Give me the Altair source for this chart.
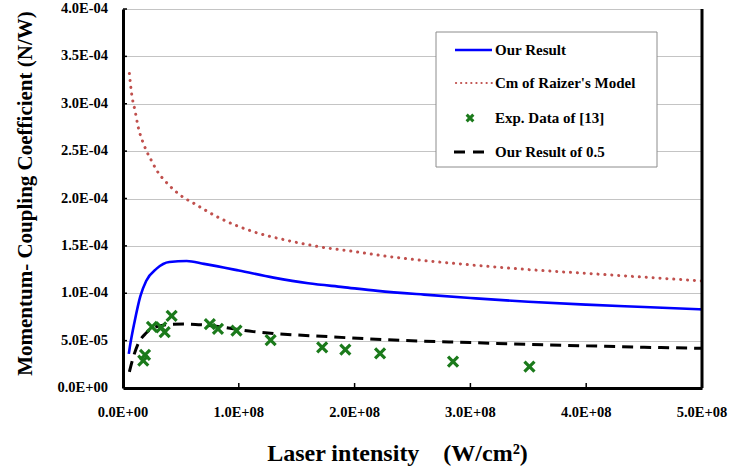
import altair as alt
import pandas as pd

# ---------------- data ----------------
OUR_I = [5e6, 6e6, 1.0e7, 1.5e7, 2.0e7, 2.9e7, 4.0e7, 5.5e7, 7.0e7, 1.0e8, 1.3e8,
         1.6e8, 1.9e8, 2.2e8, 2.6e8, 3.0e8, 3.5e8, 4.0e8, 4.5e8, 5.0e8]
OUR_V = [3.6e-5, 4.4e-5, 7.0e-5, 9.7e-5, 1.13e-4, 1.26e-4, 1.33e-4, 1.34e-4, 1.31e-4,
         1.24e-4, 1.165e-4, 1.105e-4, 1.065e-4, 1.025e-4, 9.85e-5, 9.5e-5, 9.1e-5,
         8.8e-5, 8.55e-5, 8.3e-5]

RAIZER_I = [5.5e6, 7.5e6, 1.05e7, 1.32e7, 1.7e7, 2.0e7, 2.5e7, 2.9e7, 3.9e7, 5.0e7,
            6.1e7, 8.4e7, 1.125e8, 1.41e8, 1.7e8, 2.0e8, 2.28e8, 2.56e8, 3.0e8,
            3.5e8, 4.0e8, 4.5e8, 5.0e8]
RAIZER_V = [3.32e-4, 3.1e-4, 2.92e-4, 2.75e-4, 2.6e-4, 2.51e-4, 2.39e-4, 2.3e-4,
            2.15e-4, 2.03e-4, 1.95e-4, 1.79e-4, 1.65e-4, 1.56e-4, 1.49e-4, 1.44e-4,
            1.39e-4, 1.35e-4, 1.30e-4, 1.25e-4, 1.21e-4, 1.17e-4, 1.13e-4]

HALF_I = [5.5e6, 9e6, 1.32e7, 2.0e7, 2.5e7, 4.0e7, 5.5e7, 7.0e7, 1.125e8, 1.8e8,
          2.54e8, 3.0e8, 3.5e8, 4.0e8, 4.5e8, 5.0e8]
HALF_V = [1.7e-5, 3.3e-5, 4.7e-5, 5.8e-5, 6.3e-5, 6.7e-5, 6.75e-5, 6.65e-5, 5.95e-5,
          5.4e-5, 4.96e-5, 4.8e-5, 4.6e-5, 4.45e-5, 4.3e-5, 4.19e-5]

EXP_I = [1.75e7, 1.9e7, 2.5e7, 3.3e7, 3.6e7, 4.2e7, 7.5e7, 8.2e7, 9.8e7, 1.275e8,
         1.72e8, 1.92e8, 2.22e8, 2.85e8, 3.51e8]
EXP_V = [2.9e-5, 3.5e-5, 6.45e-5, 6.4e-5, 5.9e-5, 7.6e-5, 6.75e-5, 6.25e-5, 6.05e-5,
         5.05e-5, 4.3e-5, 4.05e-5, 3.65e-5, 2.78e-5, 2.25e-5]

X_TICKS = [0, 1e8, 2e8, 3e8, 4e8, 5e8]
X_TICK_LABELS = ["0.0E+00", "1.0E+08", "2.0E+08", "3.0E+08", "4.0E+08", "5.0E+08"]
Y_TICKS = [0, 5e-5, 1e-4, 1.5e-4, 2e-4, 2.5e-4, 3e-4, 3.5e-4, 4e-4]
Y_TICK_LABELS = ["0.0E+00", "5.0E-05", "1.0E-04", "1.5E-04", "2.0E-04",
                 "2.5E-04", "3.0E-04", "3.5E-04", "4.0E-04"]

SERIES = ["Our Result", "Cm of Raizer's Model", "Exp. Data of [13]", "Our Result of 0.5"]
X_TITLE = "Laser intensity\u00a0\u00a0\u00a0\u00a0(W/cm\u00b2)"
Y_TITLE = "Momentum- Coupling Coefficient (N/W)"

# ---------------- layout / style ----------------
W, H = 579, 379
FONT = "Liberation Serif"
BLUE = "#0000ff"
RED = "#c0504d"
GREEN = "#1b7a1b"
XPATH = "M-1,-1L1,1M1,-1L-1,1"
TICK_FS = 14.5

xs = alt.Scale(domain=[0, 5e8], nice=False, zero=False)
ys = alt.Scale(domain=[0, 4e-4], nice=False, zero=False)

x_axis = alt.Axis(values=X_TICKS, grid=False, labels=False,
                  title=X_TITLE, titleFontSize=24, titleX=274, titleY=65,
                  titleBaseline="middle", titleAlign="center")
y_axis = alt.Axis(values=Y_TICKS, grid=True, labels=False,
                  title=Y_TITLE, titleFontSize=21, titleX=-98, titleY=184,
                  titleBaseline="middle", titleAlign="center", titleAngle=270)

def df(i, v):
    return pd.DataFrame({"I": i, "v": v})

our = alt.Chart(df(OUR_I, OUR_V)).mark_line(
    color=BLUE, strokeWidth=2.6, interpolate="monotone").encode(
    x=alt.X("I:Q", scale=xs, axis=x_axis), y=alt.Y("v:Q", scale=ys, axis=y_axis))

raizer = alt.Chart(df(RAIZER_I, RAIZER_V)).mark_line(
    color=RED, strokeWidth=3, strokeDash=[0.1, 6.8], strokeCap="round",
    interpolate="monotone").encode(x="I:Q", y="v:Q")

half = alt.Chart(df(HALF_I, HALF_V)).mark_line(
    color="black", strokeWidth=3, strokeDash=[11, 7], interpolate="monotone"
).encode(x="I:Q", y="v:Q")

exp = alt.Chart(df(EXP_I, EXP_V)).mark_point(
    shape=XPATH, filled=False, color=GREEN, strokeWidth=3.2, size=100, opacity=1
).encode(x="I:Q", y="v:Q")

# tick labels drawn as text through the scales
xl = alt.Chart(pd.DataFrame({"I": X_TICKS, "lab": X_TICK_LABELS})).mark_text(
    font=FONT, fontWeight="bold", fontSize=TICK_FS, color="black",
    align="center", baseline="middle").encode(
    x="I:Q", y=alt.value(H + 25), text="lab:N")
yl = alt.Chart(pd.DataFrame({"v": Y_TICKS, "lab": Y_TICK_LABELS})).mark_text(
    font=FONT, fontWeight="bold", fontSize=TICK_FS, color="black",
    align="right", baseline="middle").encode(
    y="v:Q", x=alt.value(-15), text="lab:N")

# inward tick marks and right frame line
xt = alt.Chart(pd.DataFrame({"I": X_TICKS[1:-1]})).mark_rule(
    color="black", strokeWidth=1.5).encode(
    x="I:Q", y=alt.value(H), y2=alt.value(H - 5))
yt = alt.Chart(pd.DataFrame({"v": Y_TICKS[1:]})).mark_rule(
    color="black", strokeWidth=1.5).encode(
    y="v:Q", x=alt.value(0), x2=alt.value(4))
one = pd.DataFrame({"k": [0]})
right = alt.Chart(one).mark_rule(color="black", strokeWidth=3).encode(
    x=alt.value(W), y=alt.value(0), y2=alt.value(H))

# legend
LX0, LX1, LY0, LY1 = 313, 534, 23, 158
ROWS = [41, 74, 109, 143]
SX0, SX1, TX = 332, 369, 372
box = alt.Chart(one).mark_rect(fill="white", stroke="#8c8c8c", strokeWidth=1).encode(
    x=alt.value(LX0), x2=alt.value(LX1), y=alt.value(LY0), y2=alt.value(LY1))
l1 = alt.Chart(one).mark_rule(color=BLUE, strokeWidth=2.6).encode(
    x=alt.value(SX0), x2=alt.value(SX1), y=alt.value(ROWS[0]))
l2 = alt.Chart(one).mark_rule(color=RED, strokeWidth=2.2, strokeDash=[0.1, 5],
                              strokeCap="round").encode(
    x=alt.value(SX0 + 1), x2=alt.value(SX1), y=alt.value(ROWS[1]))
l3 = alt.Chart(one).mark_point(shape=XPATH, filled=False, color=GREEN,
                               strokeWidth=3, size=45, opacity=1).encode(
    x=alt.value(347), y=alt.value(ROWS[2]))
l4 = alt.Chart(one).mark_rule(color="black", strokeWidth=3, strokeDash=[11, 8]).encode(
    x=alt.value(SX0 - 1), x2=alt.value(SX1), y=alt.value(ROWS[3]))
texts = []
for lab, yy in zip(SERIES, ROWS):
    texts.append(alt.Chart(pd.DataFrame({"label": [lab]})).mark_text(
        align="left", baseline="middle", font=FONT, fontWeight="bold",
        fontSize=15, color="black").encode(
        x=alt.value(TX), y=alt.value(yy), text="label:N"))

chart = alt.layer(our, raizer, half, exp, xl, yl, xt, yt, right,
                  box, l1, l2, l3, l4, *texts
).properties(
    width=W, height=H,
    padding={"left": 123, "top": 9, "right": 29, "bottom": 80},
    autosize=alt.AutoSizeParams(type="none"),
    background="white",
).configure_view(stroke="#9a9a9a", strokeWidth=1
).configure_axis(
    tickSize=0, domainColor="black", domainWidth=3,
    gridColor="#c4c4c4", gridWidth=1,
    titleFont=FONT, titleFontWeight="bold", titleColor="black",
)

chart.save("out.html", embed_options={"renderer": "svg", "actions": False})
